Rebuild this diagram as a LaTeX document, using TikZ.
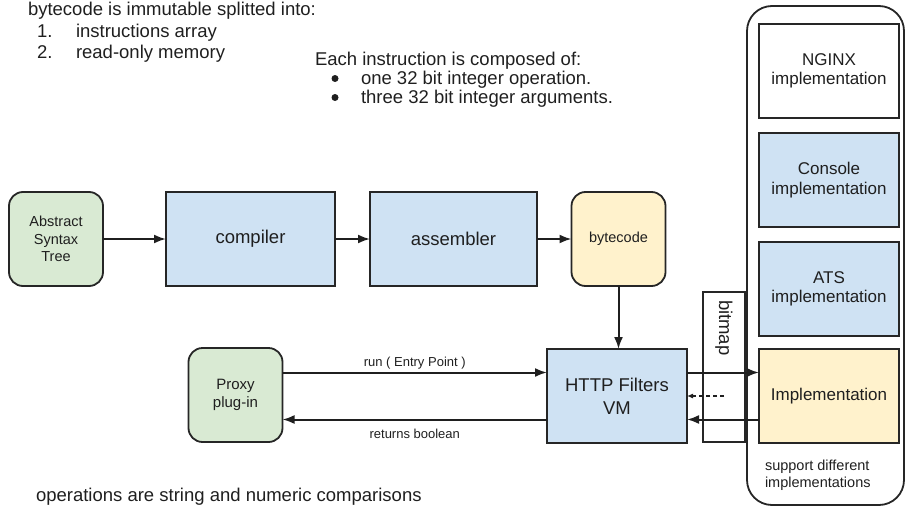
\documentclass[tikz,border=0pt]{standalone}
\usepackage{fontspec}
\setmainfont{Liberation Sans}
\usetikzlibrary{arrows.meta,calc}

\definecolor{astgreen}{HTML}{D9EAD3}
\definecolor{stepblue}{HTML}{CFE2F3}
\definecolor{codeyellow}{HTML}{FFF2CC}
\definecolor{edge}{HTML}{262626}
\definecolor{ink}{HTML}{1F1F1F}

\begin{document}
\begin{tikzpicture}[x=1pt,y=-1pt,
  every node/.style={text=ink, inner sep=0pt, outer sep=0pt},
  blockbox/.style={draw=edge, line width=1.8pt, align=center,
    minimum width=#1, minimum height=94pt},
  blockbox/.default=94pt,
  roundbox/.style={blockbox, rounded corners=14pt},
  txtL/.style={font=\fontsize{18.5}{21}\selectfont},
  txtM/.style={font=\fontsize{17}{19.5}\selectfont},
  txtS/.style={font=\fontsize{14.5}{17.5}\selectfont},
  txtXS/.style={font=\fontsize{13}{15}\selectfont},
  arr/.style={draw=ink, line width=2pt, -{Latex[length=12pt,width=9pt]}},
  dasharr/.style={draw=ink, line width=1.1pt, dash pattern=on 4pt off 3pt,
    -{Latex[length=6pt,width=5pt]}},
  bulletdot/.style={fill=ink}
]
\useasboundingbox (0,0) rectangle (905,506);

% notes at the top and bottom
\node[txtL, anchor=base west] (note) at (28,15) {bytecode is immutable splitted into:};
\node[txtL, anchor=base west] (n1) at (37,37) {1.};
\node[txtL, anchor=base west] (i1) at (76,37) {instructions array};
\node[txtL, anchor=base west] (n2) at (37,58) {2.};
\node[txtL, anchor=base west] (i2) at (76,58) {read-only memory};

\node[txtL, anchor=base west] (instr) at (315,65) {Each instruction is composed of:};
\fill[bulletdot] (335,78.5) circle (3.5pt);
\node[txtL, anchor=base west] (b1) at (361,84) {one 32 bit integer operation.};
\fill[bulletdot] (335,97.5) circle (3.5pt);
\node[txtL, anchor=base west] (b2) at (361,103) {three 32 bit integer arguments.};

\node[txtL, anchor=base west] (ops) at (36,501) {operations are string and numeric comparisons};

% compilation pipeline
\node[roundbox, fill=astgreen, txtS] (ast) at (56,239) {Abstract\\Syntax\\Tree};
\node[blockbox=169pt, fill=stepblue, txtL] (comp) at (250.5,239) {compiler};
\node[blockbox=167pt, fill=stepblue, txtL] (asm) at (453.5,239) {assembler};
\node[roundbox=93pt, fill=codeyellow, txtS] (bc) at (618.5,239) {bytecode};

\draw[arr] (ast) -- (comp);
\draw[arr] (comp) -- (asm);
\draw[arr] (asm) -- (bc);

% runtime
\node[roundbox=95pt, fill=astgreen, font=\fontsize{15}{18}\selectfont] (proxy) at (235.5,395) {Proxy\\plug-in};
\node[blockbox=140pt, fill=stepblue, font=\fontsize{18.5}{23}\selectfont] (vm) at (617,396) {HTTP Filters\\VM};
\node[draw=edge, line width=1.8pt, minimum width=42pt, minimum height=150pt] (bitmap) at (724,367) {};
\node[txtL, rotate=-90, anchor=west] (bitmaplbl) at ([yshift=-8pt]bitmap.north) {bitmap};

\draw[arr] (bc.south) -- (bc.south |- vm.north);

% container of host implementations
\node[draw=edge, line width=1.8pt, rounded corners=25pt, minimum width=157pt, minimum height=499pt] (hosts) at (825.5,255.5) {};
\node[blockbox=140pt, fill=white, txtM] (nginx) at (829,71) {NGINX\\implementation};
\node[blockbox=140pt, fill=stepblue, txtM] (console) at (829,180) {Console\\implementation};
\node[blockbox=140pt, fill=stepblue, txtM] (ats) at (829,289) {ATS\\implementation};
\node[blockbox=140pt, fill=codeyellow, txtM] (impl) at (829,396) {Implementation};
\node[txtS, anchor=base west, align=left] (support) at (765,470) {support different};
\node[txtS, anchor=base west, align=left] (support2) at (765,487) {implementations};

% connections around the VM
\coordinate (vml1) at ($(vm.north west)!0.25!(vm.south west)$);
\coordinate (vml2) at ($(vm.north west)!0.75!(vm.south west)$);
\coordinate (vmr1) at ($(vm.north east)!0.25!(vm.south east)$);
\coordinate (vmr2) at ($(vm.north east)!0.75!(vm.south east)$);

\draw[arr] (vml1 -| proxy.east) -- node[txtXS, above=3pt] (runlbl) {run ( Entry Point )} (vml1);
\draw[arr] (vml2) -- node[txtXS, below=10pt] (retlbl) {returns boolean} (vml2 -| proxy.east);

\draw[arr] (vmr1) -- (vmr1 -| impl.west);
\draw[arr] (vmr2 -| impl.west) -- (vmr2);
\draw[dasharr] (bitmap.center |- vm.east) -- (vm.east);
\end{tikzpicture}
\end{document}
